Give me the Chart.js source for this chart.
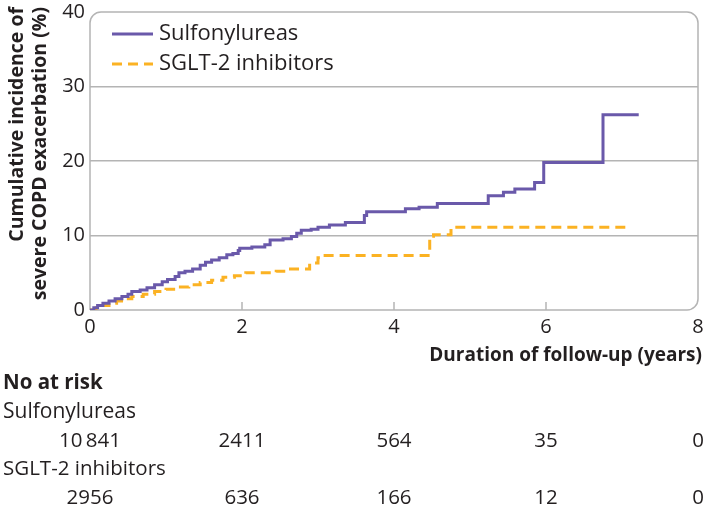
<!DOCTYPE html>
<html>
<head>
<meta charset="utf-8">
<script src="https://cdn.jsdelivr.net/npm/chart.js@4/dist/chart.umd.min.js"></script>
<style>
  html, body { margin: 0; padding: 0; background: #fff; }
</style>
</head>
<body>
<canvas id="kmChart" width="705" height="511"></canvas>
<script>
// step points: time (years) and cumulative incidence (%)
const sulfTimes = [0, 0.05, 0.1, 0.17, 0.25, 0.33, 0.42, 0.5, 0.55, 0.66, 0.75, 0.85, 0.95, 1.02, 1.12, 1.17, 1.25, 1.35, 1.45, 1.52, 1.6, 1.7, 1.8, 1.88, 1.95, 1.97, 2.13, 2.3, 2.37, 2.54, 2.65, 2.72, 2.78, 2.91, 3.0, 3.15, 3.36, 3.61, 3.64, 4.15, 4.33, 4.57, 5.24, 5.44, 5.59, 5.85, 5.97, 6.75, 7.22];
const sulfValues = [0, 0.3, 0.6, 0.9, 1.2, 1.5, 1.8, 2.1, 2.5, 2.7, 3.0, 3.4, 3.8, 4.1, 4.5, 5.0, 5.2, 5.5, 6.0, 6.4, 6.7, 7.0, 7.4, 7.6, 8.0, 8.3, 8.45, 8.75, 9.4, 9.55, 9.85, 10.3, 10.7, 10.85, 11.1, 11.4, 11.75, 12.7, 13.2, 13.6, 13.8, 14.3, 15.35, 15.8, 16.25, 17.1, 19.8, 26.2, 26.2];

const sgltTimes = [0, 0.08, 0.15, 0.25, 0.35, 0.45, 0.55, 0.7, 0.85, 1.0, 1.15, 1.3, 1.45, 1.6, 1.75, 1.9, 2.05, 2.45, 2.6, 2.89, 3.0, 3.06, 4.47, 4.52, 4.75, 7.05];
const sgltValues = [0, 0.3, 0.6, 0.9, 1.2, 1.5, 1.8, 2.1, 2.5, 2.8, 3.1, 3.4, 3.7, 4.0, 4.4, 4.6, 5.0, 5.2, 5.5, 6.3, 7.0, 7.3, 9.9, 10.1, 11.1, 11.1];

const seriesNames = ["Sulfonylureas", "SGLT-2 inhibitors"];

// number at risk table
const riskYears = [0, 2, 4, 6, 8];
const sulfAtRisk = ["10\u2009841", "2411", "564", "35", "0"];
const sgltAtRisk = ["2956", "636", "166", "12", "0"];

const purple = "#6a59aa";
const orange = "#fbb223";
const gridGrey = "#b4b4b4";
const textColor = "#231f20";
const fontFamily = "'Open Sans', 'Noto Sans', sans-serif";

function toPoints(xs, ys) {
    return xs.map((x, i) => ({ x: x, y: ys[i] }));
}

// frame, inward ticks, legend, axis title and risk table
const decorPlugin = {
    id: "decor",
    beforeDatasetsDraw(chart) {
        const ctx = chart.ctx;
        const a = chart.chartArea;
        const r = 11;
        ctx.save();
        ctx.strokeStyle = gridGrey;
        ctx.lineWidth = 1.5;
        ctx.beginPath();
        ctx.moveTo(a.left, a.bottom);
        ctx.lineTo(a.left, a.top + r);
        ctx.arcTo(a.left, a.top, a.left + r, a.top, r);
        ctx.lineTo(a.right - r, a.top);
        ctx.arcTo(a.right, a.top, a.right, a.top + r, r);
        ctx.lineTo(a.right, a.bottom - r);
        ctx.arcTo(a.right, a.bottom, a.right - r, a.bottom, r);
        ctx.lineTo(a.left, a.bottom);
        ctx.stroke();

        const xs = chart.scales.x;
        [2, 4, 6].forEach(v => {
            const px = xs.getPixelForValue(v);
            ctx.beginPath();
            ctx.moveTo(px, a.bottom);
            ctx.lineTo(px, a.bottom - 8);
            ctx.stroke();
        });
        ctx.restore();
    },
    afterDraw(chart) {
        const ctx = chart.ctx;
        const xs = chart.scales.x;
        ctx.save();
        ctx.fillStyle = textColor;
        ctx.textBaseline = "middle";

        // legend
        const legendColors = [purple, orange];
        const legendDash = [[], [10, 6]];
        seriesNames.forEach((name, i) => {
            const y = 34 + i * 30;
            ctx.strokeStyle = legendColors[i];
            ctx.lineWidth = 3;
            ctx.setLineDash(legendDash[i]);
            ctx.beginPath();
            ctx.moveTo(112, y);
            ctx.lineTo(153, y);
            ctx.stroke();
            ctx.setLineDash([]);
            ctx.font = "22px " + fontFamily;
            ctx.textAlign = "left";
            ctx.fillText(name, 159, y);
        });

        // y axis title (two lines, top aligned)
        ctx.save();
        ctx.rotate(-Math.PI / 2);
        ctx.font = "bold 19.5px " + fontFamily;
        ctx.textAlign = "right";
        ctx.fillText("Cumulative incidence of", -7, 17);
        ctx.fillText("severe COPD exacerbation (%)", -7, 40);
        ctx.restore();

        // x axis title
        ctx.font = "bold 19px " + fontFamily;
        ctx.textAlign = "right";
        ctx.fillText("Duration of follow-up (years)", 702, 356);

        // number at risk
        ctx.textAlign = "left";
        ctx.font = "bold 20.5px " + fontFamily;
        ctx.fillText("No at risk", 3, 383);
        ctx.font = "21px " + fontFamily;
        ctx.fillText(seriesNames[0], 3, 412);
        ctx.font = "20.5px " + fontFamily;
        ctx.fillText(seriesNames[1], 3, 469);
        ctx.textAlign = "center";
        riskYears.forEach((yr, i) => {
            const px = xs.getPixelForValue(yr);
            ctx.fillText(sulfAtRisk[i], px, 441);
            ctx.fillText(sgltAtRisk[i], px, 498);
        });
        ctx.restore();
    }
};

const chart = new Chart(document.getElementById("kmChart"), {
    type: "line",
    data: {
        datasets: [
            {
                label: seriesNames[0],
                data: toPoints(sulfTimes, sulfValues),
                borderColor: purple,
                borderWidth: 3,
                stepped: "before",
                pointRadius: 0,
                fill: false
            },
            {
                label: seriesNames[1],
                data: toPoints(sgltTimes, sgltValues),
                borderColor: orange,
                borderWidth: 3,
                borderDash: [10, 6],
                stepped: "before",
                pointRadius: 0,
                fill: false
            }
        ]
    },
    options: {
        responsive: false,
        animation: false,
        devicePixelRatio: 1,
        layout: { padding: { top: 12, right: 7, left: 0, bottom: 0 } },
        plugins: {
            legend: { display: false },
            tooltip: { enabled: false }
        },
        scales: {
            x: {
                type: "linear",
                min: 0,
                max: 8,
                border: { display: false },
                grid: { display: false, drawTicks: false },
                ticks: {
                    stepSize: 2,
                    padding: 5,
                    color: textColor,
                    font: { family: fontFamily, size: 20 }
                },
                afterFit(scale) {
                    scale.height = 201;
                    scale.paddingLeft = 0;
                    scale.paddingRight = 0;
                }
            },
            y: {
                min: 0,
                max: 40,
                border: { display: false },
                grid: {
                    drawTicks: false,
                    lineWidth: 1.5,
                    color: c => (c.tick && (c.tick.value === 0 || c.tick.value === 40)) ? "rgba(0,0,0,0)" : gridGrey
                },
                ticks: {
                    stepSize: 10,
                    padding: 5,
                    color: textColor,
                    font: { family: fontFamily, size: 20 }
                },
                afterFit(scale) {
                    scale.width = 90;
                    scale.paddingTop = 0;
                    scale.paddingBottom = 0;
                }
            }
        }
    },
    plugins: [decorPlugin]
});
</script>
</body>
</html>
